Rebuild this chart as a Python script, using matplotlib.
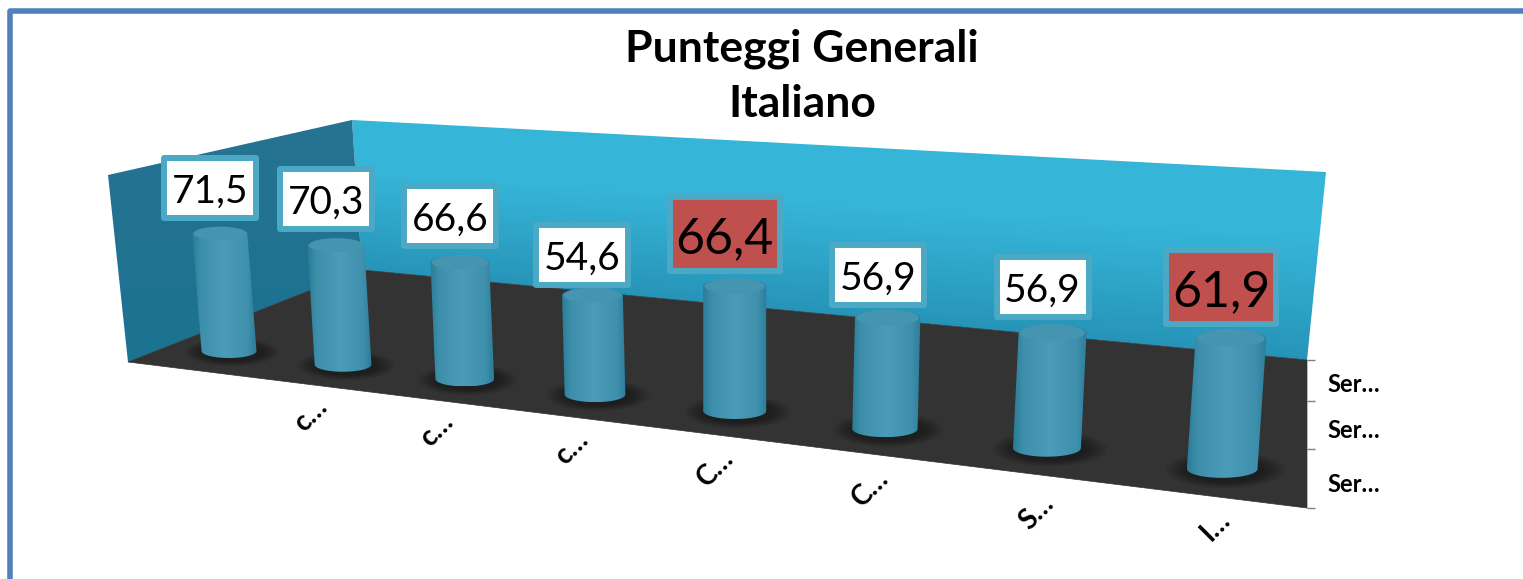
import numpy as np
import matplotlib
matplotlib.use("Agg")
import matplotlib.pyplot as plt
from matplotlib.colors import LinearSegmentedColormap
from matplotlib.patches import Polygon, Ellipse, Rectangle

# ---- data ----
title = "Punteggi Generali\nItaliano"
values = [71.5, 70.3, 66.6, 54.6, 66.4, 56.9, 56.9, 61.9]
value_labels = ["71,5", "70,3", "66,6", "54,6", "66,4", "56,9", "56,9", "61,9"]
highlighted = [False, False, False, False, True, False, False, True]
category_labels = ["c…", "c…", "c…", "C…", "C…", "S…", "I…"]
series_labels = ["Ser…", "Ser…", "Ser…"]

# ---- layout nudges (pixels) ----
label_nudge = [0, 0, 0, 6, 1, 3, 0, 2]
category_nudge = [0, 1, 4, 7, 9, 14, 7]

W, H = 1523, 579
plt.rcParams["font.family"] = ["Lato", "DejaVu Sans"]
fig = plt.figure(figsize=(W / 100, H / 100), dpi=100)
ax = fig.add_axes([0, 0, 1, 1])
ax.set_xlim(0, W)
ax.set_ylim(H, 0)
ax.axis("off")

# perspective projection of the category axis
C, X0, AX, Y0, AY, K = 0.0317, 229.0, 110.4, 351.0, 13.1, 1.64
def scale(i):
    return 1 / (1 - C * i)
def base(i):
    return X0 + AX * i * scale(i), Y0 + AY * i * scale(i)

def gradient_image(poly, rgb_fn, z):
    pts = np.array(poly)
    l, t = pts.min(axis=0)
    r, b = pts.max(axis=0)
    xs, ys = np.meshgrid(np.linspace(l, r, 400), np.linspace(t, b, 300))
    patch = Polygon(poly, closed=True, fc="none", ec="none", zorder=z)
    ax.add_patch(patch)
    im = ax.imshow(rgb_fn(xs, ys), extent=(l, r, b, t), origin="upper", aspect="auto",
                   zorder=z, interpolation="bilinear")
    im.set_clip_path(patch)

def mix(c1, c2, v):
    c1, c2 = np.array(c1), np.array(c2)
    return c1 + (c2 - c1) * v[..., None]

# back wall
back = [(352, 120), (1326, 172), (1307, 360), (362, 270)]
def back_rgb(xs, ys):
    f = (xs - 352) / 974
    top = 120 + 52 * f
    bot = 270 + 92 * f
    v = np.clip((ys - top) / (bot - top), 0, 1)
    v = np.clip((v - 0.35) / 0.65, 0, 1)
    return np.clip(mix((0.21, 0.71, 0.85), (0.15, 0.58, 0.72), v), 0, 1)
gradient_image(back, back_rgb, 1)

# left wall
left = [(108, 175), (352, 120), (362, 270), (128, 362)]
def left_rgb(xs, ys):
    v = np.clip((ys - 130) / 220, 0, 1)
    return mix((0.15, 0.45, 0.57), (0.11, 0.45, 0.57), v)
gradient_image(left, left_rgb, 1)

# floor
ax.add_patch(Polygon([(128, 362), (362, 270), (1307, 360), (1307, 508)],
                     closed=True, fc="#333333", ec="#333333", lw=0.5, zorder=2))

# right-hand depth ticks and labels
for y in [360, 401, 449, 508]:
    ax.plot([1307, 1315], [y, y], color="#808080", lw=1.0, zorder=2, solid_capstyle="butt")
for lab, y in zip(series_labels, [385, 431, 484]):
    ax.text(1327, y, lab, fontsize=17, fontweight="bold", color="black", ha="left", va="center")

# cylinders
cyl_cmap = LinearSegmentedColormap.from_list(
    "cyl", [(0, "#2B7C96"), (0.14, "#3D8FAB"), (0.5, "#4A9CB8"), (0.86, "#3F90AD"), (1, "#2B7D9A")])
t_low = np.linspace(np.pi, 0, 40)
t_up = np.linspace(0, -np.pi, 40)
for i, val in enumerate(values):
    s = scale(i)
    xb, yb = base(i)
    w, e = 27.5 * s, 7 * s
    xt = xb + (xb - 737) * 0.018
    yt = yb - val * K * s

    for f in np.linspace(1.7, 1.1, 8):
        ax.add_patch(Ellipse((xb + 3, yb + 1), 2 * w * f, 2 * e * f * 1.2, fc="black", ec="none",
                             alpha=0.055, zorder=3))

    outline = list(zip(xb + w * np.cos(t_low), yb + e * np.sin(t_low))) \
        + list(zip(xt + w * np.cos(t_up), yt + e * np.sin(t_up)))
    patch = Polygon(outline, closed=True, fc="none", ec="none", zorder=4)
    ax.add_patch(patch)
    l, r = min(xb, xt) - w, max(xb, xt) + w
    im = ax.imshow(np.linspace(0, 1, 128)[None, :], extent=(l, r, yb + e, yt - e), cmap=cyl_cmap,
                   aspect="auto", zorder=4, interpolation="bilinear")
    im.set_clip_path(patch)
    ax.add_patch(Ellipse((xt, yt), 2 * w * 0.96, 2 * e * 0.9, fc="#4695B0", ec="none", zorder=5))

    # value label
    box_w, box_h, fs = (110, 74, 36) if highlighted[i] else (92, 60, 28)
    cx, cy = xt - 10, yt - (box_h / 2 + 3 + 13) + label_nudge[i]
    ax.add_patch(Rectangle((cx - box_w / 2, cy - box_h / 2), box_w, box_h,
                           fc="#C0504D" if highlighted[i] else "white", ec="#4BA9C5", lw=4.3,
                           joinstyle="round", zorder=6))
    ax.text(cx, cy, value_labels[i], fontsize=fs, color="black", ha="center", va="center_baseline", zorder=7)

# category labels
for n, lab in enumerate(category_labels):
    i = n + 1
    xb, yb = base(i)
    ax.text(xb - 32 + n * 4.3, yb + 50 + category_nudge[n], lab, fontsize=20, fontweight="bold", rotation=45,
            rotation_mode="anchor", ha="center", va="center", color="black", zorder=7)

# title
ax.text(802, 76, title, fontsize=32, fontweight="bold", color="black", ha="center", va="center",
        linespacing=1.44, zorder=8)

# outer frame
ax.plot([10, 10, W], [H, 10.7, 10.7], color="#4F81BD", lw=4.0, solid_joinstyle="round", zorder=9)

ax.set_xlim(0, W)
ax.set_ylim(H, 0)
fig.savefig("out.png", dpi=100)
